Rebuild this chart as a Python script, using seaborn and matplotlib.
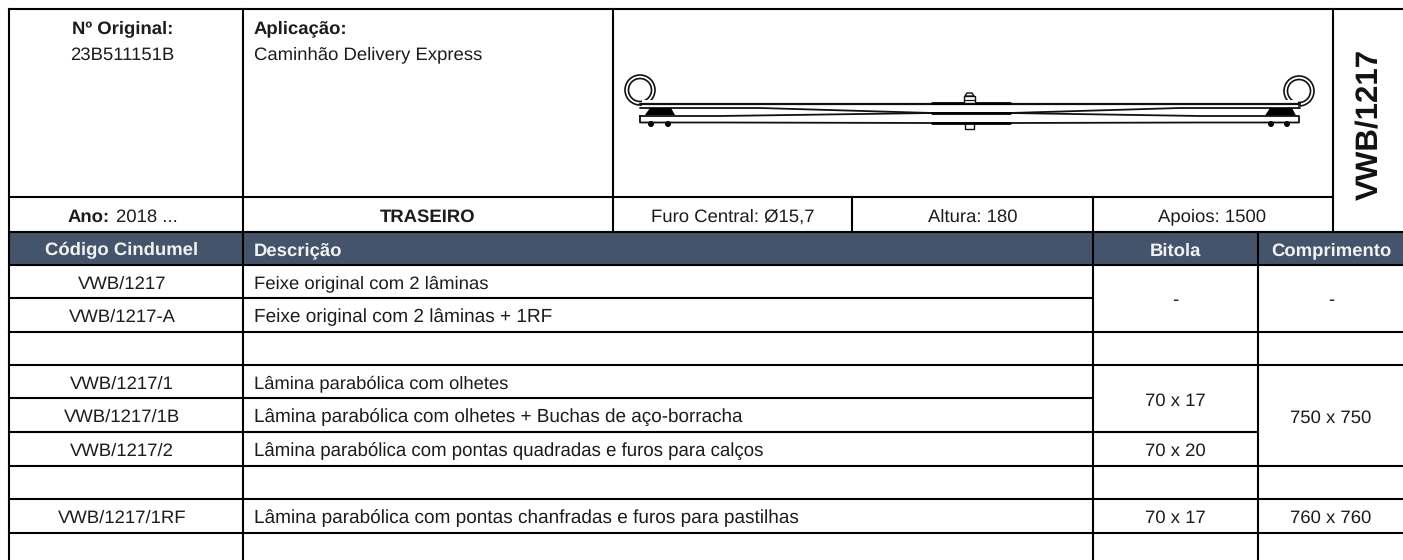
import matplotlib
matplotlib.use("Agg")
import matplotlib.pyplot as plt
from matplotlib.patches import Circle, Rectangle, Polygon
import pandas as pd
import seaborn as sns

sns.set_theme(style="white")
plt.rcParams['font.family'] = ['Liberation Sans', 'DejaVu Sans']
plt.rcParams['text.hinting'] = 'no_hinting'
plt.rcParams['text.hinting_factor'] = 8

# --- table content ---
codes = ["VWB/1217", "VWB/1217-A", "VWB/1217/1", "VWB/1217/1B", "VWB/1217/2", "VWB/1217/1RF"]
descriptions = [
    "Feixe original com 2 lâminas",
    "Feixe original com 2 lâminas + 1RF",
    "Lâmina parabólica com olhetes",
    "Lâmina parabólica com olhetes + Buchas de aço-borracha",
    "Lâmina parabólica com pontas quadradas e furos para calços",
    "Lâmina parabólica com pontas chanfradas e furos para pastilhas",
]
row_index = [0, 1, 3, 4, 5, 7]
headers = ["Código Cindumel", "Descrição", "Bitola", "Comprimento"]
bitola_cells = [("-", 0, 1), ("70 x 17", 3, 4), ("70 x 20", 5, 5), ("70 x 17", 7, 7)]
compr_cells = [("-", 0, 1), ("750 x 750", 3, 5), ("760 x 760", 7, 7)]
info_cells = ["Furo Central: Ø15,7", "Altura: 180", "Apoios: 1500"]
info_centers = [733, 973, 1212]
desc_sizes = [13.3, 13.7, 13.2, 13.6, 13.4, 13.7]

# --- grid geometry (pixels) ---
col_x = [9, 243, 613, 852, 1093, 1258, 1333, 1403]
row_y = [265, 298, 332, 365, 398, 432, 466, 499, 533, 560]
top_y, info_y, head_y = 9, 197, 232
BAND = "#44546A"
INK = "#1c1c1c"
FS = 13.3
LW = 1.5

# --- spring outline (pixels) ---
leaf_top_x = [640, 1300]
leaf_top_y = [104, 104]
leaf_a_x = [640, 760, 932, 1010, 1180, 1300]
leaf_a_y = [108, 108, 113, 113, 108, 108]
leaf_b_x = [640, 720, 932, 1010, 1200, 1299, 1299, 1200, 1010, 932, 720, 640, 640]
leaf_b_y = [116, 116, 113, 113, 116, 116, 122.5, 122.5, 123, 123, 122.5, 122.5, 116]
pad_left_x = [645, 650, 671, 675, 645]
pad_left_y = [115, 108, 108, 115, 115]
pad_right_x = [1265, 1270, 1292, 1296, 1265]
pad_right_y = [115.5, 108, 108, 115.5, 115.5]
rivet_x = [651, 668, 1271, 1287]
eyes = [(640, 90), (1299, 91)]

fig = plt.figure(figsize=(14.03, 5.6), dpi=100)
ax = fig.add_axes([0, 0, 1, 1])
ax.set_xlim(0, 1403)
ax.set_ylim(560, 0)
ax.axis("off")


def hline(y, x0, x1):
    ax.plot([x0, x1], [y, y], color="black", lw=LW, solid_capstyle="projecting", zorder=4)


def vline(x, y0, y1):
    ax.plot([x, x], [y0, y1], color="black", lw=LW, solid_capstyle="projecting", zorder=4)


def txt(x, y, s, ha="center", **kw):
    kw.setdefault("color", INK)
    kw.setdefault("fontsize", FS)
    return ax.text(x, y, s, ha=ha, va="center_baseline", **kw)


# header band
ax.add_patch(Rectangle((col_x[0], head_y), 1403 - col_x[0], row_y[0] - head_y, color=BAND, lw=0, zorder=1))

# horizontal rules
hline(top_y, col_x[0], 1403)
hline(info_y, col_x[0], col_x[6])
hline(head_y, col_x[0], 1403)
hline(row_y[0], col_x[0], 1403)
hline(row_y[1], col_x[0], col_x[4])
hline(row_y[2], col_x[0], 1403)
hline(row_y[3], col_x[0], 1403)
hline(row_y[4], col_x[0], col_x[4])
hline(row_y[5], col_x[0], col_x[5])
hline(row_y[6], col_x[0], 1403)
hline(row_y[7], col_x[0], 1403)
hline(row_y[8], col_x[0], 1403)

# vertical rules
vline(col_x[0], top_y, 560)
vline(col_x[1], top_y, 560)
vline(col_x[2], top_y, head_y)
vline(col_x[3], info_y, head_y)
vline(col_x[4], info_y, 560)
vline(col_x[5], head_y, 560)
vline(col_x[6], top_y, head_y)

# top block text
txt(122.5, 27, "Nº Original:", weight="bold")
txt(122.5, 53, "23B511151B")
txt(253.5, 27, "Aplicação:", ha="left", weight="bold")
txt(253.5, 53, "Caminhão Delivery Express", ha="left")
ax.text(1370, 124, "VWB/1217", rotation=90, ha="center", va="center", weight="bold", fontsize=22.5, color="#111111")

# info row
info_mid = (info_y + head_y) / 2 + 0.5
txt(68, info_mid, "Ano:", ha="left", weight="bold")
txt(116, info_mid, "2018 ...", ha="left")
txt(428, info_mid, "TRASEIRO", weight="bold")
for label, cx in zip(info_cells, info_centers):
    txt(cx, info_mid, label)

# header row
head_mid = (head_y + row_y[0]) / 2 + 0.5
txt(122, head_mid, headers[0], color="#f2f2f2", weight="bold")
txt(253.5, head_mid, headers[1], ha="left", color="#f2f2f2", weight="bold")
txt(1175, head_mid, headers[2], color="#f2f2f2", weight="bold")
txt(1331, head_mid, headers[3], color="#f2f2f2", weight="bold")


# body rows
def mid(i0, i1):
    return (row_y[i0] + row_y[i1 + 1]) / 2 + 0.5


for code, desc, r, size in zip(codes, descriptions, row_index, desc_sizes):
    txt(122, mid(r, r), code)
    txt(253.5, mid(r, r), desc, ha="left", fontsize=size)
for s, a, b in bitola_cells:
    txt(1175, mid(a, b), s)
for s, a, b in compr_cells:
    txt(1331, mid(a, b), s)

# spring drawing
for cx, cy in eyes:
    ax.add_patch(Circle((cx, cy), 15.0, fc="white", ec="#111111", lw=1.2, zorder=2))
    ax.add_patch(Circle((cx, cy), 11.5, fc="white", ec="#111111", lw=1.2, zorder=2))

ax.add_patch(Rectangle((642, 100), 656, 8, fc="white", ec="none", zorder=2.5))
line_style = dict(ax=ax, color="#111111", sort=False, estimator=None, legend=False, zorder=3)
sns.lineplot(x=leaf_top_x, y=leaf_top_y, lw=1.6, **line_style)
sns.lineplot(data=pd.DataFrame({"x": leaf_a_x, "y": leaf_a_y}), x="x", y="y", lw=1.3, **line_style)
sns.lineplot(data=pd.DataFrame({"x": leaf_b_x, "y": leaf_b_y}), x="x", y="y", lw=1.3, **line_style)
ax.add_patch(Polygon(list(zip(pad_left_x, pad_left_y)), fc="black", ec="none", zorder=3))
ax.add_patch(Polygon(list(zip(pad_right_x, pad_right_y)), fc="black", ec="none", zorder=3))
for rx in rivet_x:
    ax.add_patch(Circle((rx, 124), 3, fc="black", ec="none", zorder=2.8))
# centre clamp and bolt
for y in [103, 113, 123]:
    ax.plot([932, 1010], [y, y], color="black", lw=2.0, zorder=3)
ax.add_patch(Rectangle((963.5, 96), 11, 7, fc="white", ec="#111111", lw=1.0, zorder=3))
ax.add_patch(Polygon([(965, 96), (967, 93), (972, 93), (974, 96)], fc="white", ec="#111111", lw=1.0, zorder=3))
ax.plot([963.5, 974.5], [99.5, 99.5], color="#111111", lw=0.9, zorder=3)
ax.add_patch(Rectangle((965, 123), 9, 5.5, fc="white", ec="#111111", lw=1.0, zorder=2.6))

ax.set_xlim(0, 1403)
ax.set_ylim(560, 0)
ax.axis("off")
fig.savefig("out.png", dpi=100)
